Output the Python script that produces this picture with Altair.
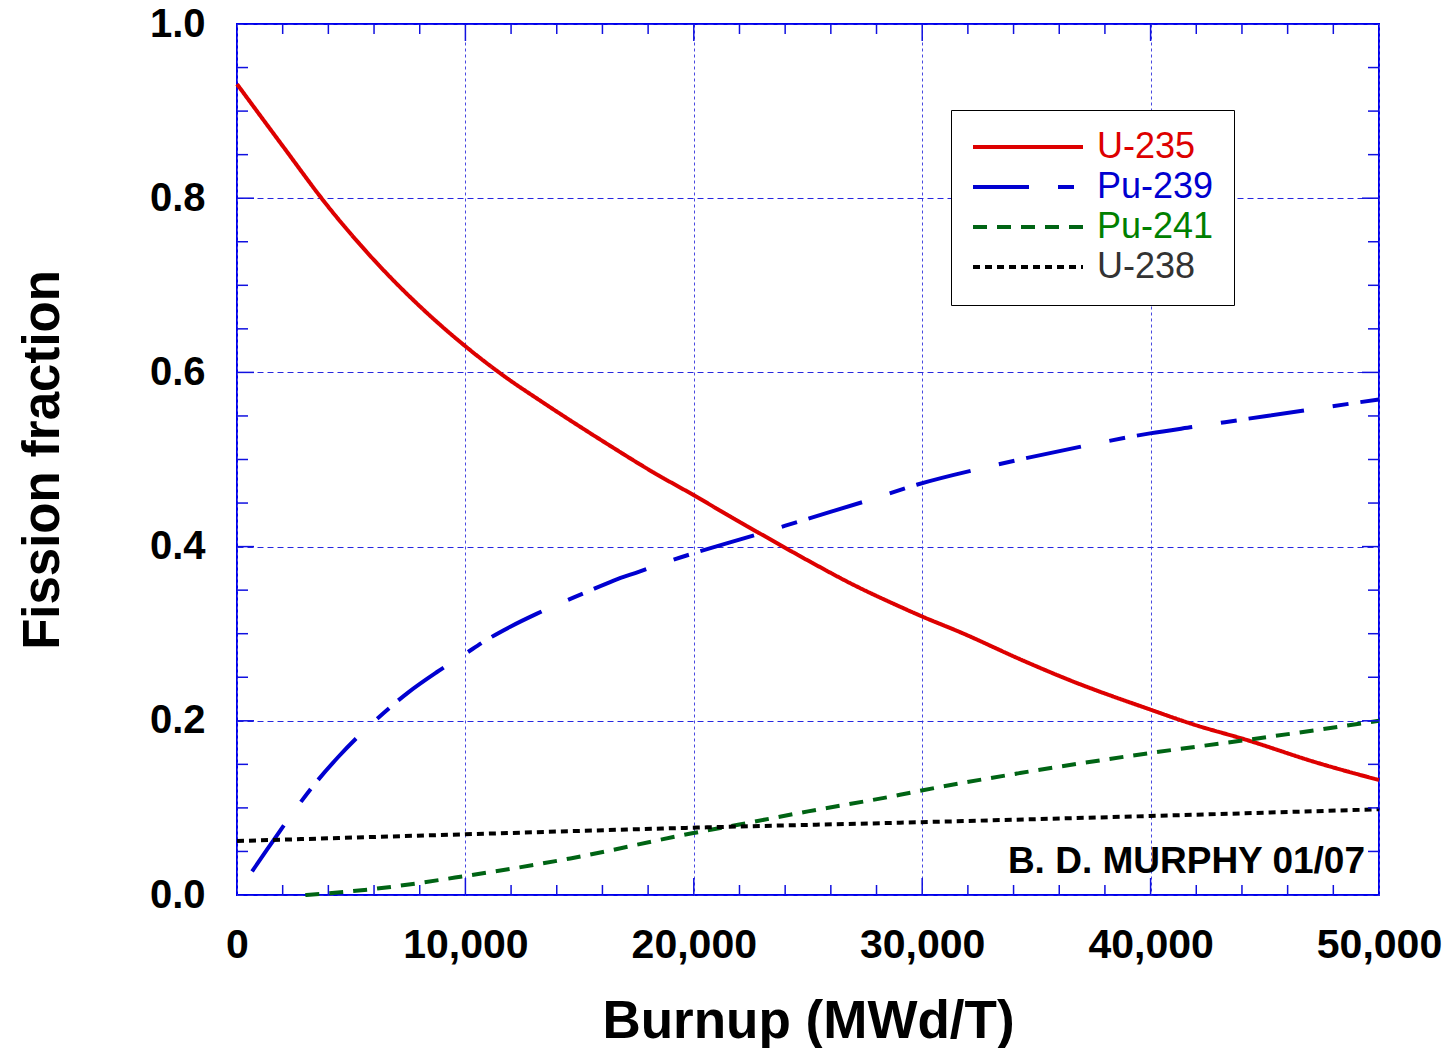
import altair as alt
import pandas as pd

# ---------------- data ----------------
title_text = "(Example PWR fuel calculation)"
credit_text = "B. D. MURPHY 01/07"

iso_names = ["U-235", "Pu-239", "Pu-241", "U-238"]
line_colors = ["#dd0000", "#0000d0", "#006414", "#000000"]
line_dashes = [[1, 0], [56, 29, 16, 12], [14, 10], [7, 5]]
line_widths = [4, 4, 3.5, 3.5]

u235_burnup = [0, 2000, 4000, 6000, 8000, 10000, 11895, 13135, 15178, 16200, 18243,
               20000, 21891, 22898, 25000, 27000, 29028, 29976, 31727, 34428, 36326,
               39974, 41857, 44207, 47272, 50000]
u235_frac = [0.931, 0.860, 0.790, 0.729, 0.676, 0.630, 0.592, 0.570, 0.535, 0.518, 0.485,
             0.459, 0.430, 0.415, 0.384, 0.356, 0.331, 0.320, 0.301, 0.269, 0.248,
             0.213, 0.196, 0.178, 0.152, 0.132]

pu239_burnup = [657, 1313, 2744, 3546, 4451, 6421, 7516, 8756, 9997, 10872, 11967, 13135,
                15324, 16491, 17586, 19118, 22898, 25000, 27500, 29757, 33114, 36983,
                39974, 42017, 45082, 50000]
pu239_frac = [0.027, 0.052, 0.105, 0.132, 0.159, 0.209, 0.233, 0.256, 0.277, 0.292, 0.308,
              0.323, 0.348, 0.361, 0.371, 0.385, 0.415, 0.432, 0.452, 0.471, 0.493, 0.515,
              0.530, 0.538, 0.550, 0.569]

pu241_burnup = [2992, 5838, 9997, 14594, 19921, 22000, 25000, 29028, 29976, 34282, 39974,
                44207, 50000]
pu241_frac = [0.0, 0.0065, 0.0218, 0.042, 0.0708, 0.081, 0.096, 0.115, 0.120, 0.140, 0.163,
              0.178, 0.200]

u238_burnup = [0, 9997, 20577, 29028, 39974, 50000]
u238_frac = [0.062, 0.0697, 0.0777, 0.083, 0.0907, 0.0984]

x_labels = [0, 10000, 20000, 30000, 40000, 50000]
y_labels = [0.0, 0.2, 0.4, 0.6, 0.8, 1.0]
x_minor_ticks = [2000, 4000, 6000, 8000, 12000, 14000, 16000, 18000, 22000, 24000, 26000,
                 28000, 32000, 34000, 36000, 38000, 42000, 44000, 46000, 48000]
x_major_ticks = [10000, 20000, 30000, 40000]
y_minor_ticks = [0.05, 0.1, 0.15, 0.25, 0.3, 0.35, 0.45, 0.5, 0.55, 0.65, 0.7, 0.75,
                 0.85, 0.9, 0.95]
y_major_ticks = [0.2, 0.4, 0.6, 0.8]

# ---------------- tables ----------------
rows = []
for name, bs, fs in [("U-235", u235_burnup, u235_frac),
                     ("Pu-239", pu239_burnup, pu239_frac),
                     ("Pu-241", pu241_burnup, pu241_frac),
                     ("U-238", u238_burnup, u238_frac)]:
    for b, f in zip(bs, fs):
        rows.append({"iso": name, "burnup": b, "frac": f})
df = pd.DataFrame(rows)

W, H = 1142, 871
FONT = "Liberation Sans"
AXIS_BLUE = "#1010e0"

x_scale = alt.Scale(domain=[0, 50000], nice=False, zero=False)
y_scale = alt.Scale(domain=[0, 1], nice=False, zero=False)

label_color_expr = ("datum.label == 'U-235' ? '#dd0000' : datum.label == 'Pu-239' ? '#0000d0'"
                    " : datum.label == 'Pu-241' ? '#008000' : '#333333'")

legend = alt.Legend(
    title=None, orient="none", legendX=714, legendY=86,
    symbolType="stroke", symbolSize=12100, symbolStrokeWidth=4,
    labelFont=FONT, labelFontSize=36, labelOffset=12,
    labelColor={"expr": label_color_expr},
    padding=20, rowPadding=4, clipHeight=34,
    strokeColor="black", fillColor="white",
)

x_axis = alt.Axis(
    values=x_labels, format=",d", labelFont=FONT, labelFontSize=41, labelFontWeight="bold",
    labelColor="black", labelPadding=30, labelFlush=False, labelOverlap=False,
    ticks=False, domain=False, grid=True, gridColor="#4848e0", gridDash=[3, 3], gridWidth=1,
    title="Burnup (MWd/T)", titleFont=FONT, titleFontSize=53, titleFontWeight="bold",
    titleColor="black", titleX=571, titleY=142, titleBaseline="alphabetic", titleAlign="center",
)
y_axis = alt.Axis(
    values=y_labels, format=".1f", labelFont=FONT, labelFontSize=40, labelFontWeight="bold",
    labelColor="black", labelPadding=32, labelFlush=False, labelOverlap=False,
    ticks=False, domain=False, grid=True, gridColor="#2828e0", gridDash=[6, 4], gridWidth=1,
    title="Fission fraction", titleFont=FONT, titleFontSize=51, titleFontWeight="bold",
    titleColor="black", titleX=-179, titleY=435.5, titleAngle=270,
    titleBaseline="alphabetic", titleAlign="center",
)

lines = alt.Chart(df).mark_line(interpolate="monotone").encode(
    x=alt.X("burnup:Q", scale=x_scale, axis=x_axis),
    y=alt.Y("frac:Q", scale=y_scale, axis=y_axis),
    color=alt.Color("iso:N", sort=iso_names,
                    scale=alt.Scale(domain=iso_names, range=line_colors), legend=legend),
    strokeDash=alt.StrokeDash("iso:N", sort=iso_names,
                              scale=alt.Scale(domain=iso_names, range=line_dashes), legend=legend),
    strokeWidth=alt.StrokeWidth("iso:N", scale=alt.Scale(domain=iso_names, range=line_widths),
                                legend=None),
    order=alt.Order("burnup:Q"),
)


def xticks(values, length, top):
    d = pd.DataFrame({"v": values})
    if top:
        yy, yy2 = 0, length
    else:
        yy, yy2 = H, H - length
    return alt.Chart(d).mark_rule(color=AXIS_BLUE, strokeWidth=1.5).encode(
        x=alt.X("v:Q", scale=x_scale, axis=x_axis),
        y=alt.value(yy), y2=alt.value(yy2))


def yticks(values, length, right):
    d = pd.DataFrame({"v": values})
    if right:
        xx, xx2 = W, W - length
    else:
        xx, xx2 = 0, length
    return alt.Chart(d).mark_rule(color=AXIS_BLUE, strokeWidth=1.5).encode(
        y=alt.Y("v:Q", scale=y_scale, axis=y_axis),
        x=alt.value(xx), x2=alt.value(xx2))


tick_layers = [
    xticks(x_minor_ticks, 10, False), xticks(x_minor_ticks, 10, True),
    xticks(x_major_ticks, 17, False), xticks(x_major_ticks, 17, True),
    yticks(y_minor_ticks, 11, False), yticks(y_minor_ticks, 11, True),
    yticks(y_major_ticks, 17, False), yticks(y_major_ticks, 17, True),
]

credit = alt.Chart(pd.DataFrame({"t": [credit_text]})).mark_text(
    align="right", baseline="alphabetic", font=FONT, fontSize=37, fontWeight="bold",
    color="black",
).encode(text="t:N", x=alt.value(1128), y=alt.value(849))

chart = alt.layer(lines, *tick_layers, credit).properties(
    width=W, height=H,
    title=alt.TitleParams(text=title_text, font=FONT, fontSize=56, fontWeight="bold",
                          anchor="start", frame="group", baseline="alphabetic",
                          offset=18, dx=152, color="black"),
    padding={"left": 237, "top": 24, "right": 68, "bottom": 153},
    autosize=alt.AutoSizeParams(type="none"),
    background="white",
).configure_view(stroke="#0000ee", strokeWidth=2)

chart.save("out.html", embed_options={"renderer": "svg", "actions": False})
